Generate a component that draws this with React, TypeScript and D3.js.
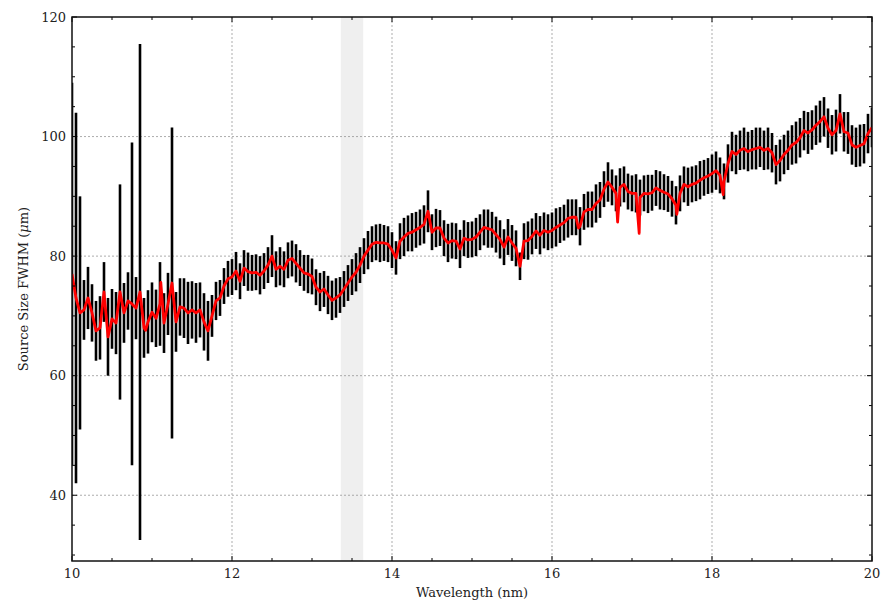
import React from 'react';
import * as d3 from 'd3';

// sampled wavelengths (nm), one bar every 0.05 nm
const wavelength = d3.range(0, 201).map((i) => 10 + i * 0.05);

// measured FWHM (µm) at each wavelength
const fwhm = [
  77, 73, 70.5, 71, 73, 70.5, 67.5, 68, 74, 66.5,
  69.5, 68.8, 74, 70.5, 72.5, 72, 71.3, 74, 68, 69,
  70.6, 69.6, 72, 68.8, 72, 75.5, 69, 71.5, 71.3, 70.5,
  71, 70.5, 71, 69, 67.5, 70, 72.5, 73, 75, 76.2,
  76.5, 77.5, 75.8, 78, 77.4, 77.2, 77.3, 76.8, 77.5, 78.5,
  80, 77.8, 78.3, 77.8, 79.3, 79.6, 78.8, 78, 77.2, 77,
  76.6, 74.8, 74, 74.5, 73.5, 72.6, 73, 73.5, 74.5, 75.5,
  76.5, 77.3, 78.5, 80, 81, 82, 82.3, 82.2, 82.2, 82,
  81, 79.7, 82.5, 83.2, 83.8, 84, 84.4, 84.8, 85.3, 87.5,
  84, 84.7, 84.7, 83, 82.2, 82.6, 82.5, 81.2, 83, 82.7,
  82.8, 83.2, 84, 84.8, 84.6, 84.4, 83.6, 82.8, 81.5, 83.2,
  82.2, 81.3, 78.3, 82.5, 82.6, 83.3, 84.2, 83.5, 84.3, 84,
  84.3, 84.8, 85.2, 85.6, 86.3, 86.5, 86.5, 85, 87.4, 87.8,
  87.8, 88.8, 89.4, 91.2, 92.4, 91.5, 90.5, 91.5, 92, 90.8,
  90.5, 90.5, 89.8, 90.5, 90.4, 90.6, 91.4, 91, 90.7, 90.4,
  89.6, 88.5, 90.5, 92, 91.6, 92, 92.2, 92.7, 93.1, 93.4,
  93.8, 94.3, 93.5, 92.5, 95.5, 97.5, 97, 97.7, 98, 97.5,
  97.8, 98, 98.2, 97.7, 98, 97.3, 95.3, 96, 97, 97.7,
  98.6, 99, 99.8, 101, 100.6, 101.1, 101.9, 102.5, 103.3, 101.4,
  100.3, 101, 103.8, 100.8, 100.6, 98.6, 98.2, 98.5, 98.8, 100.5,
  101.5,
];

// half-width of each error bar (µm)
const err = [
  32, 31, 19.5, 5, 5.2, 4.8, 5, 5.3, 5, 6.5,
  5, 5.2, 18, 5, 4.8, 27, 5.2, 41.5, 5, 5.3,
  5, 4.8, 7, 5, 5.2, 26, 5, 4.8, 5, 5.2,
  4.8, 5, 4.6, 4.8, 5, 3.5, 3.2, 3, 3, 3,
  3, 3.2, 3, 3, 3.2, 3, 3, 3.2, 3, 3,
  3.5, 3, 3.2, 3, 3, 3, 3.2, 3, 3, 3.2,
  3, 3, 3.2, 3, 3.2, 3.3, 3.3, 3, 3, 3,
  3, 3.2, 3, 3, 3.2, 3, 3, 3.2, 3, 3,
  3, 2.8, 3, 3.2, 3, 3.2, 3, 3, 3.2, 3.5,
  3, 3.2, 3, 3, 3.2, 3, 3, 3.2, 3, 3,
  3, 3.2, 3, 3, 3.2, 3, 3, 3.2, 3, 3,
  3, 3, 2.3, 3, 3.2, 3, 3, 3.2, 3, 3,
  3, 3.2, 3, 3, 3.2, 3, 3, 3.2, 3, 3,
  3, 3.2, 3, 3, 3.3, 3, 3, 3.2, 3, 3,
  3, 3.2, 3, 3, 3.2, 3, 3, 3.2, 3, 3,
  3, 3.2, 3, 3, 3.2, 3, 3, 3.2, 3, 3,
  3.2, 3.2, 3, 3, 3.2, 3.3, 3.3, 3.3, 3.5, 3.3,
  3.3, 3.5, 3.3, 3.3, 3.5, 3.3, 3.3, 3.5, 3.3, 3.3,
  3.3, 3.5, 3.3, 3.3, 3.5, 3.3, 3.3, 3.5, 3.3, 3.3,
  3.3, 3.5, 3.3, 3.3, 3.5, 3.3, 3.3, 3.5, 3.3, 3.3,
  3.3,
];

// extra samples only in the red trace (sharp dips / spikes)
const redSpikes: [number, number][] = [
  [10.92, 67.6],
  [11.11, 75.6],
  [16.33, 84.7],
  [16.82, 85.7],
  [17.09, 83.8],
  [17.56, 87.0],
  [18.14, 90.3],
];

const xTicks = [10, 12, 14, 16, 18, 20];
const yTicks = [40, 60, 80, 100, 120];
const band = [13.36, 13.64];

const W = 896;
const H = 606;
const margin = { top: 17, right: 24, bottom: 45, left: 72 };
const font = "'DejaVu Serif', serif";

export default function App() {
  const x = d3.scaleLinear().domain([10, 20]).range([margin.left, W - margin.right]);
  const y = d3.scaleLinear().domain([29, 120]).range([H - margin.bottom, margin.top]);
  const [x0, x1] = x.range();
  const [y0, y1] = y.range();

  const redPts: [number, number][] = wavelength
    .map((w, i) => [w, fwhm[i]] as [number, number])
    .concat(redSpikes)
    .sort((a, b) => a[0] - b[0]);
  const line = d3
    .line<[number, number]>()
    .x((d) => x(d[0]))
    .y((d) => y(d[1]));

  const xMinor = d3.range(10, 20.001, 0.5).filter((v) => !xTicks.some((t) => Math.abs(t - v) < 1e-6));
  const yMinor = d3.range(30, 120.001, 5).filter((v) => !yTicks.includes(v));

  return (
    <svg width={W} height={H} style={{ position: 'absolute', left: 0, top: 0, background: '#fff' }}>
      <defs>
        <clipPath id="plot">
          <rect x={x0} y={y1} width={x1 - x0} height={y0 - y1} />
        </clipPath>
      </defs>

      {/* shaded band */}
      <rect x={x(band[0])} y={y1} width={x(band[1]) - x(band[0])} height={y0 - y1} fill="#efefef" />

      {/* grid */}
      <g stroke="#8a8a8a" strokeWidth={0.7} strokeDasharray="2,2">
        {xTicks.slice(1, -1).map((t) => (
          <line key={'gx' + t} x1={x(t)} x2={x(t)} y1={y1} y2={y0} />
        ))}
        {yTicks.slice(0, -1).map((t) => (
          <line key={'gy' + t} x1={x0} x2={x1} y1={y(t)} y2={y(t)} />
        ))}
      </g>

      <g clipPath="url(#plot)">
        {/* error bars */}
        <g stroke="#000" strokeWidth={2.6}>
          {wavelength.map((w, i) => (
            <line key={i} x1={x(w)} x2={x(w)} y1={y(fwhm[i] - err[i])} y2={y(fwhm[i] + err[i])} />
          ))}
        </g>
        {/* red trace */}
        <path d={line(redPts) ?? ''} fill="none" stroke="#ff0000" strokeWidth={2.8} strokeLinejoin="round" />
      </g>

      {/* ticks, pointing inward on all four sides */}
      <g stroke="#000" strokeWidth={1}>
        {xTicks.map((t) => (
          <g key={'tx' + t}>
            <line x1={x(t)} x2={x(t)} y1={y0} y2={y0 - 5} />
            <line x1={x(t)} x2={x(t)} y1={y1} y2={y1 + 5} />
          </g>
        ))}
        {xMinor.map((t) => (
          <g key={'mx' + t}>
            <line x1={x(t)} x2={x(t)} y1={y0} y2={y0 - 3} />
            <line x1={x(t)} x2={x(t)} y1={y1} y2={y1 + 3} />
          </g>
        ))}
        {yTicks.map((t) => (
          <g key={'ty' + t}>
            <line x1={x0} x2={x0 + 5} y1={y(t)} y2={y(t)} />
            <line x1={x1} x2={x1 - 5} y1={y(t)} y2={y(t)} />
          </g>
        ))}
        {yMinor.map((t) => (
          <g key={'my' + t}>
            <line x1={x0} x2={x0 + 3} y1={y(t)} y2={y(t)} />
            <line x1={x1} x2={x1 - 3} y1={y(t)} y2={y(t)} />
          </g>
        ))}
      </g>

      {/* frame */}
      <rect x={x0} y={y1} width={x1 - x0} height={y0 - y1} fill="none" stroke="#111" strokeWidth={1.5} />

      {/* tick labels */}
      <g fontFamily={font} fontSize={13} fill="#222">
        {xTicks.map((t) => (
          <text key={'lx' + t} x={x(t)} y={y0 + 17} textAnchor="middle">
            {t}
          </text>
        ))}
        {yTicks.map((t) => (
          <text key={'ly' + t} x={x0 - 6} y={y(t)} textAnchor="end" dominantBaseline="central">
            {t}
          </text>
        ))}
      </g>

      {/* axis labels */}
      <text x={(x0 + x1) / 2} y={597} textAnchor="middle" fontFamily={font} fontSize={13} fill="#222">
        Wavelength (nm)
      </text>
      <text
        transform={`translate(28, ${(y0 + y1) / 2}) rotate(-90)`}
        textAnchor="middle"
        fontFamily={font}
        fontSize={13}
        fill="#222"
      >
        Source Size FWHM (<tspan fontStyle="italic">μ</tspan>m)
      </text>
    </svg>
  );
}
